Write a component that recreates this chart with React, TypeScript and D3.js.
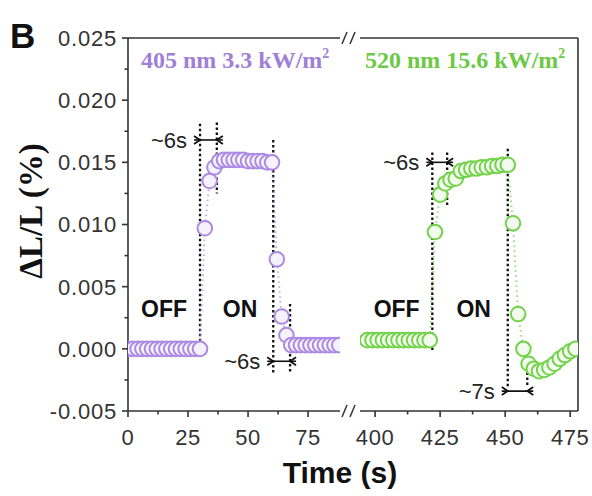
import React from "react";
import * as d3 from "d3";

// Time stamps (s) and photoresponse ΔL/L (%) for each illumination run
const purpleTime = [0, 2, 4, 6, 8, 10, 12, 14, 16, 18, 20, 22, 24, 26, 28, 30, 32, 34, 36, 38, 40, 42, 44, 46, 48, 50, 52, 54, 56, 58, 60, 62, 64, 66, 68, 70, 72, 74, 76, 78, 80, 82, 84, 86, 88];
const purpleValue = [0.0, 0.0, 0.0, 0.0, 0.0, 0.0, 0.0, 0.0, 0.0, 0.0, 0.0, 0.0, 0.0, 0.0, 0.0, 0.0, 0.0097, 0.0135, 0.0146, 0.0151, 0.0152, 0.0152, 0.0152, 0.0152, 0.0152, 0.0151, 0.0151, 0.0151, 0.0151, 0.015, 0.015, 0.0072, 0.0026, 0.0011, 0.0003, 0.0003, 0.0003, 0.0003, 0.0003, 0.0003, 0.0003, 0.0003, 0.0003, 0.0003, 0.0003];

const greenTime = [397, 399, 401, 403, 405, 407, 409, 411, 413, 415, 417, 419, 421, 423, 425, 427, 429, 431, 433, 435, 437, 439, 441, 443, 445, 447, 449, 451, 453, 455, 457, 459, 461, 463, 465, 467, 469, 471, 473, 475, 477];
const greenValue = [0.0007, 0.0007, 0.0007, 0.0007, 0.0007, 0.0007, 0.0007, 0.0007, 0.0007, 0.0007, 0.0007, 0.0007, 0.0007, 0.0094, 0.0124, 0.0133, 0.0136, 0.0137, 0.0143, 0.0144, 0.0145, 0.0145, 0.0146, 0.0146, 0.0147, 0.0147, 0.0148, 0.0148, 0.0101, 0.0028, 0.0, -0.0012, -0.0016, -0.0018, -0.0017, -0.0015, -0.0012, -0.0008, -0.0005, -0.0002, 0.0];

// Axis ticks
const yTicks = [-0.005, 0.0, 0.005, 0.01, 0.015, 0.02, 0.025];
const yMinor = [-0.0025, 0.0025, 0.0075, 0.0125, 0.0175, 0.0225];
const leftTicks = [0, 25, 50, 75];
const leftMinor = [12.5, 37.5, 62.5];
const rightTicks = [400, 425, 450, 475];
const rightMinor = [412.5, 437.5, 462.5];

// Switching markers (dotted guides) and response-time annotations
const purpleGuides = [
  { t: 30, from: 0.0181, to: -0.0005 },
  { t: 37, from: 0.0182, to: 0.0125 },
  { t: 60.5, from: 0.0168, to: -0.0019 },
  { t: 67.5, from: 0.0036, to: -0.0019 },
];
const greenGuides = [
  { t: 422, from: 0.0158, to: -0.0002 },
  { t: 427.7, from: 0.0158, to: 0.0114 },
  { t: 451, from: 0.0161, to: -0.0031 },
  { t: 458.5, from: 0.0005, to: -0.0031 },
];
const purpleSpans = [
  { t0: 30, t1: 37, v: 0.0168, label: "~6s" },
  { t0: 60.5, t1: 67.5, v: -0.001, label: "~6s" },
];
const greenSpans = [
  { t0: 422, t1: 427.7, v: 0.015, label: "~6s" },
  { t0: 451, t1: 458.5, v: -0.0034, label: "~7s" },
];
const purpleStates = [
  { t: 15, v: 0.0032, label: "OFF" },
  { t: 46.7, v: 0.0032, label: "ON" },
];
const greenStates = [
  { t: 408.3, v: 0.0032, label: "OFF" },
  { t: 437.9, v: 0.0032, label: "ON" },
];

const PURPLE = "#ac8ae3";
const PURPLE_FILL = "#f6f2fc";
const PURPLE_TEXT = "#a07fd6";
const GREEN = "#72d24a";
const GREEN_FILL = "#f2fbee";
const GREEN_TEXT = "#6cc944";
const AXIS = "#333";
const SANS = "'Liberation Sans', Arial, Helvetica, sans-serif";
const SERIF = "'Liberation Serif', 'Times New Roman', Times, serif";

const y = d3.scaleLinear().domain([-0.005, 0.025]).range([411, 38]);
const xL = d3.scaleLinear().domain([0, 88.3]).range([128, 340]);
const xR = d3.scaleLinear().domain([394.2, 478]).range([360, 578]);

type Scale = d3.ScaleLinear<number, number>;

function Series({ x, times, values, stroke, fill, clip }: { x: Scale; times: number[]; values: number[]; stroke: string; fill: string; clip: string }) {
  const pts = times.map((t, i) => [x(t), y(values[i])] as [number, number]);
  const line = d3.line()(pts) || "";
  return (
    <g clipPath={`url(#${clip})`}>
      <path d={line} fill="none" stroke={stroke} strokeOpacity={0.75} strokeWidth={2} strokeDasharray="1.5 3.5" />
      {pts.map(([cx, cy], i) => (
        <circle key={i} cx={cx} cy={cy} r={7.3} fill={fill} stroke={stroke} strokeWidth={2} />
      ))}
    </g>
  );
}

function Guides({ x, guides }: { x: Scale; guides: { t: number; from: number; to: number }[] }) {
  return (
    <g>
      {guides.map((g, i) => (
        <line key={i} x1={x(g.t)} x2={x(g.t)} y1={y(g.from)} y2={y(g.to)} stroke="#111" strokeWidth={2.3} strokeDasharray="2.5 2.5" />
      ))}
    </g>
  );
}

function Spans({ x, spans }: { x: Scale; spans: { t0: number; t1: number; v: number; label: string }[] }) {
  return (
    <g>
      {spans.map((s, i) => {
        const a = x(s.t0);
        const b = x(s.t1);
        const yy = y(s.v);
        return (
          <g key={i}>
            <line x1={a - 6} x2={b + 6} y1={yy} y2={yy} stroke="#111" strokeWidth={1.6} />
            <path d={`M${a - 6},${yy - 4}L${a},${yy}L${a - 6},${yy + 4}`} fill="none" stroke="#111" strokeWidth={1.8} />
            <path d={`M${b + 6},${yy - 4}L${b},${yy}L${b + 6},${yy + 4}`} fill="none" stroke="#111" strokeWidth={1.8} />
            <text x={a - 13} y={yy} dy="0.36em" textAnchor="end" fontFamily={SANS} fontSize={22} fill="#222">
              {s.label}
            </text>
          </g>
        );
      })}
    </g>
  );
}

function States({ x, states }: { x: Scale; states: { t: number; v: number; label: string }[] }) {
  return (
    <g>
      {states.map((s, i) => (
        <text key={i} x={x(s.t)} y={y(s.v)} dy="0.36em" textAnchor="middle" fontFamily={SANS} fontWeight="bold" fontSize={23} fill="#111">
          {s.label}
        </text>
      ))}
    </g>
  );
}

function XAxis({ x, ticks, minor }: { x: Scale; ticks: number[]; minor: number[] }) {
  const [r0, r1] = x.range();
  const yb = y(-0.005);
  return (
    <g>
      <line x1={r0} x2={r1} y1={yb} y2={yb} stroke={AXIS} strokeWidth={1.6} />
      {ticks.map((t) => (
        <g key={t}>
          <line x1={x(t)} x2={x(t)} y1={yb} y2={yb + 6} stroke={AXIS} strokeWidth={1.6} />
          <text x={x(t)} y={yb + 34} textAnchor="middle" fontFamily={SANS} fontSize={22} letterSpacing={0.6} fill={AXIS}>
            {t}
          </text>
        </g>
      ))}
      {minor.map((t) => (
        <line key={t} x1={x(t)} x2={x(t)} y1={yb} y2={yb + 3.5} stroke={AXIS} strokeWidth={1.6} />
      ))}
    </g>
  );
}

function BreakMark({ cx, cy }: { cx: number; cy: number }) {
  return (
    <g stroke={AXIS} strokeWidth={1.5}>
      <line x1={cx - 6} y1={cy + 6} x2={cx - 1} y2={cy - 6} />
      <line x1={cx + 2} y1={cy + 6} x2={cx + 7} y2={cy - 6} />
    </g>
  );
}

export default function App() {
  const top = y(0.025);
  const bottom = y(-0.005);
  const fmt = (v: number) => d3.format(".3f")(v).replace("\u2212", "-");
  return (
    <svg width={592} height={496} viewBox="0 0 592 496" style={{ position: "absolute", left: 0, top: 0, background: "#fff" }}>
      <defs>
        <clipPath id="clipL">
          <rect x={xL.range()[0]} y={top} width={xL.range()[1] - xL.range()[0]} height={bottom - top} />
        </clipPath>
        <clipPath id="clipR">
          <rect x={xR.range()[0]} y={top} width={xR.range()[1] - xR.range()[0]} height={bottom - top} />
        </clipPath>
      </defs>

      <text x={10} y={48} fontFamily={SANS} fontWeight="bold" fontSize={35} fill="#111">B</text>

      {/* frame */}
      <line x1={xL.range()[0]} x2={xL.range()[1]} y1={top} y2={top} stroke={AXIS} strokeWidth={1.6} />
      <line x1={xR.range()[0]} x2={xR.range()[1]} y1={top} y2={top} stroke={AXIS} strokeWidth={1.6} />
      <line x1={xR.range()[1]} x2={xR.range()[1]} y1={top} y2={bottom} stroke={AXIS} strokeWidth={1.6} />
      <line x1={xL.range()[0]} x2={xL.range()[0]} y1={top} y2={bottom} stroke={AXIS} strokeWidth={1.6} />
      <BreakMark cx={348} cy={top} />
      <BreakMark cx={348} cy={bottom} />

      {/* y axis */}
      {yTicks.map((v) => (
        <g key={v}>
          <line x1={122} x2={128} y1={y(v)} y2={y(v)} stroke={AXIS} strokeWidth={1.6} />
          <text x={117} y={y(v)} dy="0.36em" textAnchor="end" fontFamily={SANS} fontSize={22} letterSpacing={0.8} fill={AXIS}>
            {fmt(v)}
          </text>
        </g>
      ))}
      {yMinor.map((v) => (
        <line key={v} x1={124.5} x2={128} y1={y(v)} y2={y(v)} stroke={AXIS} strokeWidth={1.6} />
      ))}

      <XAxis x={xL} ticks={leftTicks} minor={leftMinor} />
      <XAxis x={xR} ticks={rightTicks} minor={rightMinor} />

      <text transform="translate(42,211) rotate(-90)" textAnchor="middle" fontFamily={SERIF} fontWeight="bold" fontSize={33} fill="#111">
        ΔL/L (%)
      </text>
      <text x={340} y={483} textAnchor="middle" fontFamily={SANS} fontWeight="bold" fontSize={30} fill="#111">
        Time (s)
      </text>

      {/* panel titles */}
      <text x={141} y={68} fontFamily={SERIF} fontWeight="bold" fontSize={24} fill={PURPLE_TEXT}>
        405 nm 3.3 kW/m<tspan fontSize={14} dy={-10}>2</tspan>
      </text>
      <text x={365} y={68} fontFamily={SERIF} fontWeight="bold" fontSize={24} fill={GREEN_TEXT}>
        520 nm 15.6 kW/m<tspan fontSize={14} dy={-10}>2</tspan>
      </text>

      <Guides x={xL} guides={purpleGuides} />
      <Guides x={xR} guides={greenGuides} />
      <Series x={xL} times={purpleTime} values={purpleValue} stroke={PURPLE} fill={PURPLE_FILL} clip="clipL" />
      <Series x={xR} times={greenTime} values={greenValue} stroke={GREEN} fill={GREEN_FILL} clip="clipR" />
      <Spans x={xL} spans={purpleSpans} />
      <Spans x={xR} spans={greenSpans} />
      <States x={xL} states={purpleStates} />
      <States x={xR} states={greenStates} />
    </svg>
  );
}
